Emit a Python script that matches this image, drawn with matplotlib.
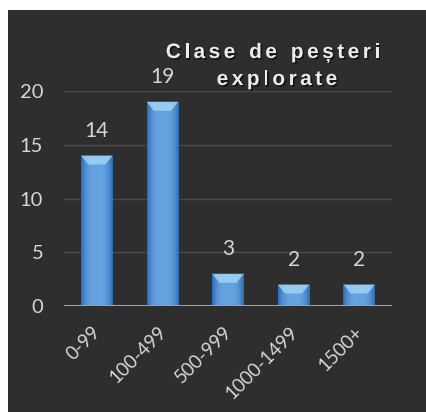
import numpy as np
import matplotlib
matplotlib.use("Agg")
import matplotlib.pyplot as plt
from matplotlib.patches import Rectangle, Polygon
import matplotlib.patheffects as pe
import matplotlib.transforms as mtransforms

categories = ["0-99", "100-499", "500-999", "1000-1499", "1500+"]
values = [14, 19, 3, 2, 2]
yticks = [0, 5, 10, 15, 20]
title_lines = ["Clase de pe\u0219teri", "explorate"]

W, H = 426, 412
fig = plt.figure(figsize=(W / 100, H / 100), dpi=100)
fig.patch.set_facecolor("white")
bg = Rectangle((8 / W, 0), 1 - 8 / W, 1 - 10 / H, transform=fig.transFigure,
               facecolor="#2e2e2e", edgecolor="none", zorder=-10)
fig.patches.append(bg)

ax = fig.add_axes([64 / W, 1 - 306 / H, (392 - 64) / W, (306 - 91) / H])
ax.set_facecolor("none")
ax.set_zorder(1)
ax.set_xlim(-0.5, len(categories) - 0.5)
ax.set_ylim(0, 20)
for s in ax.spines.values():
    s.set_visible(False)
ax.set_yticks(yticks)
ax.set_xticks(range(len(categories)))
ax.tick_params(length=0)
ax.set_yticklabels([str(t) for t in yticks], fontsize=14.5, color="#d6d6d6", family="Lato")
ax.tick_params(axis="y", pad=15)
ax.set_xticklabels(categories, rotation=45, ha="right", va="top", rotation_mode="anchor",
                   fontsize=13.5, color="#d6d6d6", family="Lato")
ax.tick_params(axis="x", pad=9)
off = mtransforms.ScaledTranslation(-5 / 100, -5 / 100, fig.dpi_scale_trans)
for lab in ax.get_xticklabels():
    lab.set_transform(lab.get_transform() + off)
for t in yticks[1:]:
    ax.axhline(t, color="#4b4b4b", lw=1.0, zorder=1)
ax.axhline(0, color="#a0a0a0", lw=2.2, zorder=4)

# gradient for bars
prof = np.linspace(-1, 1, 64)
light = np.array([0.40, 0.64, 0.88])
dark = np.array([0.17, 0.42, 0.70])
w = 1 - np.abs(prof) ** 3
cols = dark[None, :] + (light - dark)[None, :] * w[:, None]
grad = cols[None, :, :]

bw = 0.48
px_per_unit = (306 - 91) / 20.0
cap = 9 / px_per_unit
inset = 0.11
for i, v in enumerate(values):
    x0, x1 = i - bw / 2, i + bw / 2
    rect = Rectangle((x0, 0), bw, v, facecolor="none", edgecolor="none")
    ax.add_patch(rect)
    im = ax.imshow(grad, extent=(x0, x1, 0, v), aspect="auto", zorder=3, interpolation="bilinear")
    im.set_clip_path(rect)
    topc = Polygon([(x0, v), (x1, v), (x1 - inset, v - cap), (x0 + inset, v - cap)],
                   closed=True, facecolor="#9fd2f5", edgecolor="none", alpha=0.85, zorder=3.5)
    ax.add_patch(topc)
    ax.annotate(str(v), (i, v), xytext=(0, 10.5), textcoords="offset points",
                ha="center", va="bottom", fontsize=15, color="#d6d6d6", family="Lato",
                annotation_clip=False)
ax.set_xlim(-0.5, len(categories) - 0.5)
ax.set_ylim(0, 20)

# title with letter spacing
fig.canvas.draw()
r = fig.canvas.get_renderer()
shadow = [pe.withSimplePatchShadow(offset=(1.2, -1.2), shadow_rgbFace="black", alpha=0.55)]
centers = [(273, 58), (277, 85)]
spacing = 3.4
for line, (cx, base) in zip(title_lines, centers):
    widths = []
    for ch in line:
        t = fig.text(0, 0, ch if ch != " " else "n", fontsize=15, fontweight="bold",
                     family="Liberation Sans")
        bb = t.get_window_extent(r)
        widths.append(bb.width if ch != " " else bb.width * 0.55)
        t.remove()
    total = sum(widths) + spacing * (len(line) - 1)
    x = cx - total / 2
    for ch, wd in zip(line, widths):
        if ch != " ":
            fig.text(x / W, 1 - base / H, ch, fontsize=15, fontweight="bold",
                     family="Liberation Sans", color="#ececec", va="baseline", ha="left",
                     path_effects=shadow, zorder=5)
        x += wd + spacing

fig.savefig("out.png", dpi=100, facecolor=fig.get_facecolor())
